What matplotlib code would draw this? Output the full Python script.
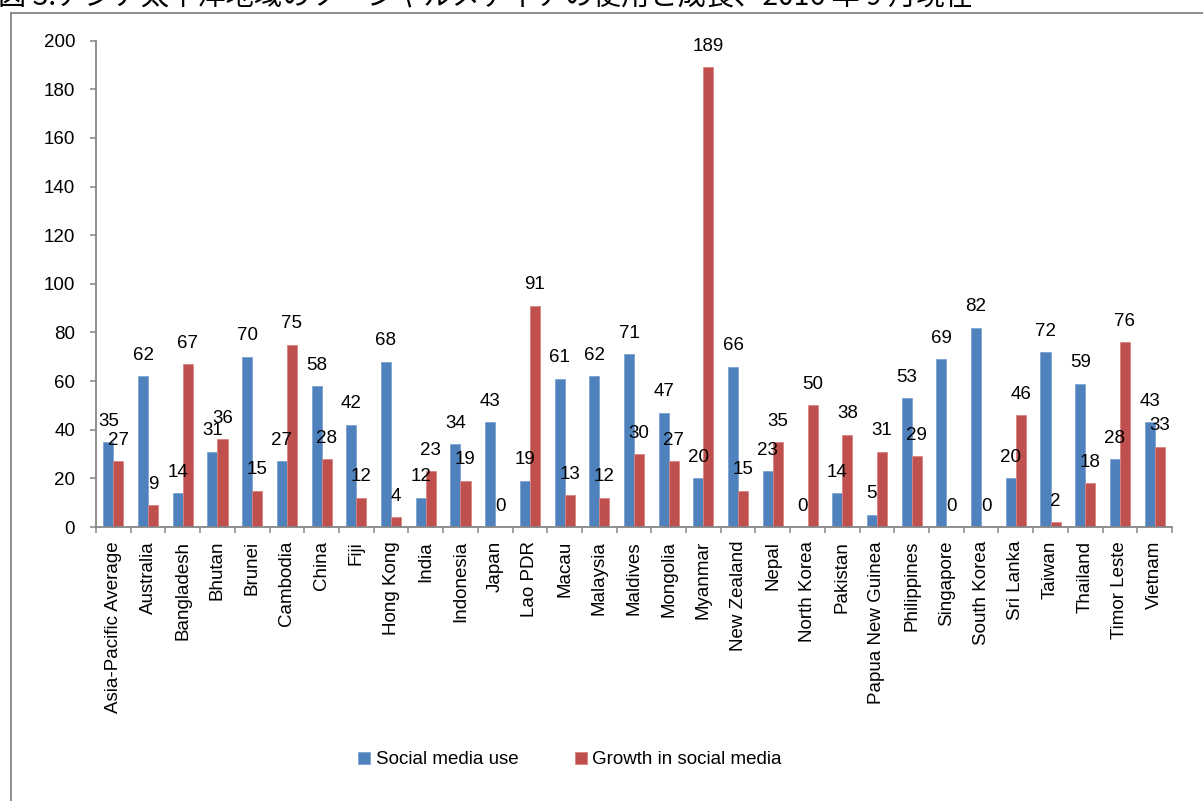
import matplotlib.pyplot as plt
import numpy as np
from matplotlib.lines import Line2D

plt.rcParams["font.family"] = ["Liberation Sans", "DejaVu Sans"]

countries = [
    "Asia-Pacific Average", "Australia", "Bangladesh", "Bhutan", "Brunei",
    "Cambodia", "China", "Fiji", "Hong Kong", "India", "Indonesia", "Japan",
    "Lao PDR", "Macau", "Malaysia", "Maldives", "Mongolia", "Myanmar",
    "New Zealand", "Nepal", "North Korea", "Pakistan", "Papua New Guinea",
    "Philippines", "Singapore", "South Korea", "Sri Lanka", "Taiwan",
    "Thailand", "Timor Leste", "Vietnam",
]
social_use = [35, 62, 14, 31, 70, 27, 58, 42, 68, 12, 34, 43, 19, 61, 62, 71,
              47, 20, 66, 23, 0, 14, 5, 53, 69, 82, 20, 72, 59, 28, 43]
social_growth = [27, 9, 67, 36, 15, 75, 28, 12, 4, 23, 19, 0, 91, 13, 12, 30,
                 27, 189, 15, 35, 50, 38, 31, 29, 0, 0, 46, 2, 18, 76, 33]

C_USE = "#4F81BD"
C_GROWTH = "#C0504D"
C_AXIS = "#868686"
FS = 13.5

W, H = 1203, 801
fig = plt.figure(figsize=(W / 100, H / 100), dpi=100)
fig.patch.set_facecolor("white")

# outer chart frame (only top and left edges fall inside the canvas)
fig.add_artist(Line2D([11 / W, 11 / W], [0, 1 - 13 / H], transform=fig.transFigure,
                      color=C_AXIS, lw=1.3))
fig.add_artist(Line2D([11 / W, 1.0], [1 - 13 / H, 1 - 13 / H], transform=fig.transFigure,
                      color=C_AXIS, lw=1.3))

fig.text(-2 / W, 1 - 4.5 / H,
         "図 3.アジア太平洋地域のソーシャルメディアの使用と成長、2016 年 9 月現在",
         ha="left", va="baseline", fontsize=20.3,
         family=["Noto Sans CJK JP", "DejaVu Sans"], color="black")

ax = fig.add_axes([96 / W, (H - 527) / H, (1172 - 96) / W, (527 - 40.7) / H])

x = np.arange(len(countries))
bw = 0.29
b1 = ax.bar(x - bw / 2, social_use, bw, color=C_USE, edgecolor="#7FA3D3",
            linewidth=0.6, label="Social media use")
b2 = ax.bar(x + bw / 2, social_growth, bw, color=C_GROWTH, edgecolor="#D88583",
            linewidth=0.6, label="Growth in social media")

for xs, vals in ((x - bw / 2, social_use), (x + bw / 2, social_growth)):
    for xi, v in zip(xs, vals):
        ax.annotate(str(v), (xi, v), xytext=(0, 11.8), textcoords="offset points",
                    ha="center", va="baseline", fontsize=FS, color="black")

ax.set_xlim(-0.5, len(countries) - 0.5)
ax.set_ylim(0, 200)
ax.set_yticks(np.arange(0, 201, 20))

# boundary ticks between categories, labels at centres
ax.set_xticks(np.arange(-0.5, len(countries), 1.0))
ax.set_xticklabels([])
ax.set_xticks(x, minor=True)
ax.set_xticklabels(countries, minor=True, rotation=90, fontsize=FS)
ax.tick_params(axis="x", which="major", length=4.5, width=1.1, color=C_AXIS,
               direction="out")
ax.tick_params(axis="x", which="minor", length=0, pad=10)
ax.tick_params(axis="y", length=4.5, width=1.1, color=C_AXIS, direction="out",
               pad=10.5, labelsize=FS)

for s in ("top", "right"):
    ax.spines[s].set_visible(False)
for s in ("left", "bottom"):
    ax.spines[s].set_color(C_AXIS)
    ax.spines[s].set_linewidth(1.3)

fig.legend(handles=[b1, b2], loc="center", bbox_to_anchor=(570 / W, 1 - 760 / H),
           ncol=2, frameon=False, fontsize=FS, handlelength=0.65,
           handleheight=0.65, handletextpad=0.3, columnspacing=3.0)

fig.savefig("out.png", dpi=100, facecolor="white")
